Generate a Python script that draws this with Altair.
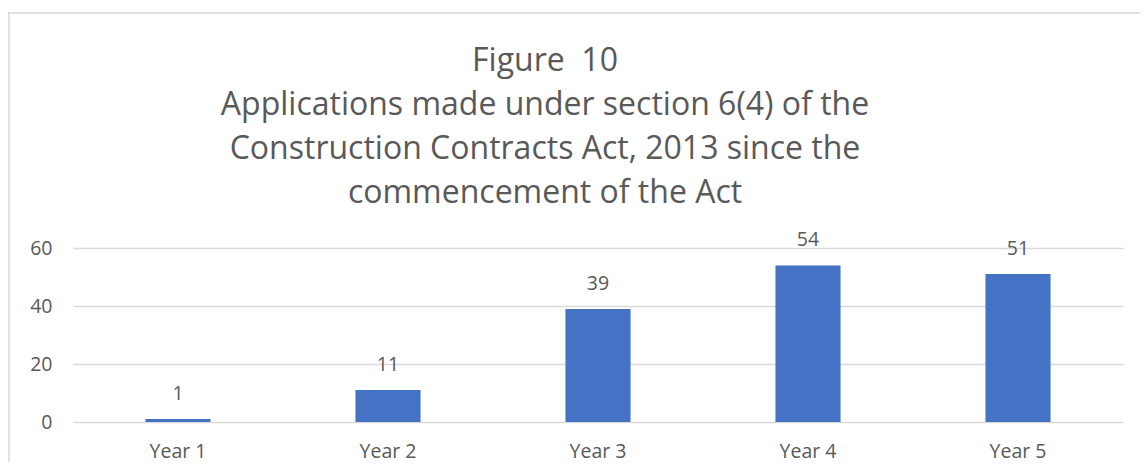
import altair as alt
import pandas as pd

categories = ["Year 1", "Year 2", "Year 3", "Year 4", "Year 5"]
values = [1, 11, 39, 54, 51]
y_ticks = [0, 20, 40, 60]
title_lines = [
    "Figure \u00a010",
    "Applications made under section 6(4) of the",
    "Construction Contracts Act, 2013 since the",
    "commencement of the Act",
]

df = pd.DataFrame({"year": categories, "count": values})

FONT = "Open Sans"
GREY = "#595959"

x_enc = alt.X(
    "year:N",
    sort=categories,
    title=None,
    scale=alt.Scale(paddingInner=0.69, paddingOuter=0.345),
    axis=alt.Axis(labelAngle=0, domain=False, ticks=False, labelPadding=20,
                  labelFontSize=19.5, labelColor=GREY, labelFont=FONT),
)
y_enc = alt.Y(
    "count:Q",
    title=None,
    scale=alt.Scale(domain=[0, 60]),
    axis=alt.Axis(values=y_ticks, domain=False, ticks=False, labelPadding=21,
                  labelFontSize=19.5, labelColor=GREY, labelFont=FONT,
                  gridColor="#d9d9d9", gridWidth=1.3),
)

base = alt.Chart(df)
bars = base.mark_bar(color="#4472C4").encode(x=x_enc, y=y_enc)
labels = base.mark_text(dy=-15, baseline="bottom", fontSize=19.5, color=GREY, font=FONT).encode(
    x=alt.X("year:N", sort=categories), y=alt.Y("count:Q"), text="count:Q"
)

frame_df = pd.DataFrame({"a": [0]})
top_border = alt.Chart(frame_df).mark_rule(color="#d9d9d9", strokeWidth=1.5).encode(
    x=alt.value(-65), x2=alt.value(1080), y=alt.value(-235)
)
left_border = alt.Chart(frame_df).mark_rule(color="#d9d9d9", strokeWidth=1.5).encode(
    x=alt.value(-64), y=alt.value(-236), y2=alt.value(230)
)

chart = alt.layer(bars, labels, top_border, left_border).properties(
    width=1050,
    height=174,
    autosize=alt.AutoSizeParams(type="none"),
    padding={"left": 65, "top": 240, "right": 17, "bottom": 40},
    title=alt.Title(
        text=title_lines,
        anchor="middle",
        frame="group",
        dx=-53,
        dy=199,
        offset=0,
        fontSize=32,
        lineHeight=44,
        font=FONT,
        fontWeight="normal",
        color=GREY,
    ),
).configure_view(stroke=None)

chart.save("out.html", embed_options={"renderer": "svg", "actions": False})
